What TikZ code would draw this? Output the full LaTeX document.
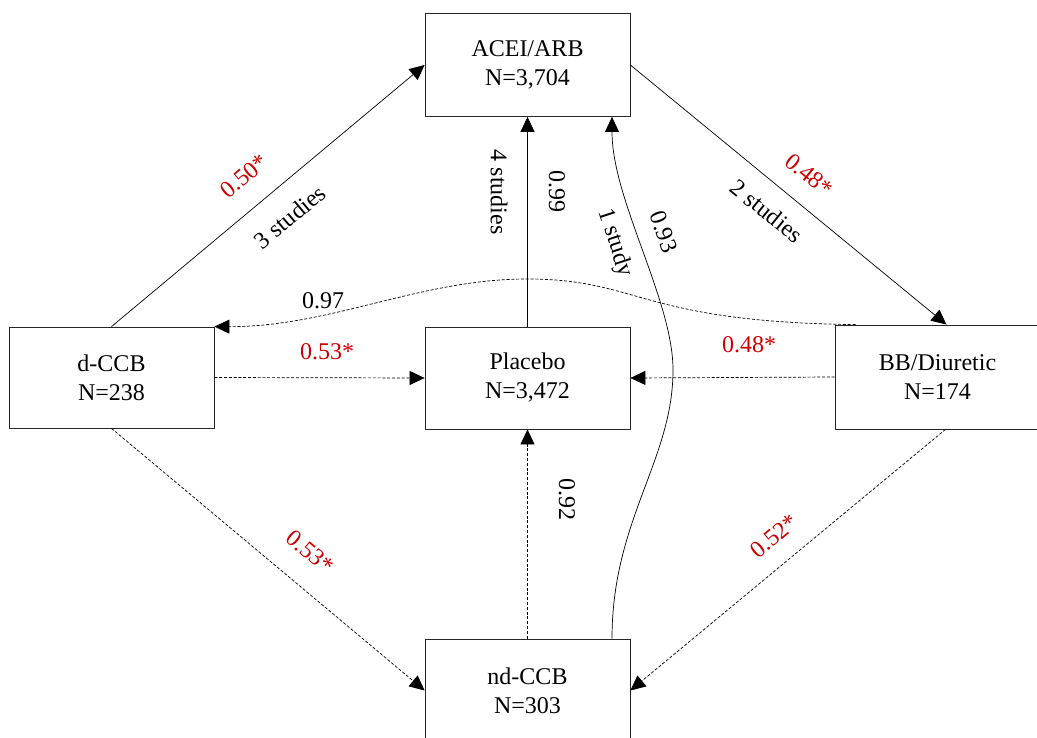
\documentclass[tikz,border=0pt]{standalone}
\usepackage{fontspec}
\setmainfont{Liberation Serif}
\usetikzlibrary{arrows.meta}
\definecolor{sigred}{RGB}{204,0,0}
\begin{document}
\begin{tikzpicture}[x=1pt,y=-1pt,
  box/.style={draw=black!85,line width=0.8pt,minimum width=205pt,minimum height=103pt,inner sep=0pt,align=center,font=\fontsize{24}{29}\selectfont},
  lbl/.style={font=\fontsize{24}{29}\selectfont,inner sep=0pt},
  sig/.style={lbl,text=sigred},
  conn/.style={line width=0.7pt,-{Triangle[length=15pt,width=14pt]}},
  dconn/.style={conn,dash pattern=on 3pt off 1.8pt},
]
\useasboundingbox (0,0) rectangle (1037,738);
\clip (0,0) rectangle (1037,738);

\node[box] (acei) at (527.5,65) {ACEI/ARB\\N=3,704};
\node[box,minimum height=102pt] (placebo) at (527.5,378) {Placebo\\N=3,472};
\node[box,minimum height=101pt] (dccb) at (111.5,377.5) {d-CCB\\N=238};
\node[box,minimum height=104pt] (bb) at (937.5,377) {BB/Diuretic\\N=174};
\node[box] (ndccb) at (527.5,690.5) {nd-CCB\\N=303};

\draw[conn] (dccb.north) -- (acei.west);
\draw[conn] (acei.east) -- ([xshift=9pt]bb.north);
\draw[conn] (placebo.north) -- (acei.south);
\draw[conn] ([xshift=84.5pt]ndccb.north) .. controls (612,520) and (673,460) .. (673,370) .. controls (673,300) and (612,200) .. ([xshift=84.5pt]acei.south);

\draw[dconn] ([xshift=-82pt]bb.north) .. controls (640,322) and (640,279) .. (527,279) .. controls (420,279) and (330,327) .. (dccb.north east);
\draw[dconn] (dccb.east) -- (placebo.west);
\draw[dconn] (bb.west) -- (placebo.east);
\draw[dconn] (ndccb.north) -- (placebo.south);
\draw[dconn] (dccb.south) -- (ndccb.west);
\draw[dconn] ([xshift=8pt]bb.south) -- (ndccb.east);

\node[sig,rotate=40] (l1) at (244,176) {0.50*};
\node[lbl,rotate=40] (l2) at (290,217) {3 studies};
\node[sig,rotate=-39] (l3) at (809,175) {0.48*};
\node[lbl,rotate=-39] (l4) at (767,211) {2 studies};
\node[lbl,rotate=-90] (l5) at (499,192) {4 studies};
\node[lbl,rotate=-90] (l6) at (557,192) {0.99};
\node[lbl,rotate=-72] (l7) at (615,243) {1 study};
\node[lbl,rotate=-70] (l8) at (664,232) {0.93};
\node[lbl] (l9) at (323,301) {0.97};
\node[sig] (l10) at (327,352) {0.53*};
\node[sig] (l11) at (749,345) {0.48*};
\node[lbl,rotate=-90] (l12) at (567,499) {0.92};
\node[sig,rotate=-40] (l13) at (310,552) {0.53*};
\node[sig,rotate=40] (l14) at (774,536) {0.52*};
\end{tikzpicture}
\end{document}
